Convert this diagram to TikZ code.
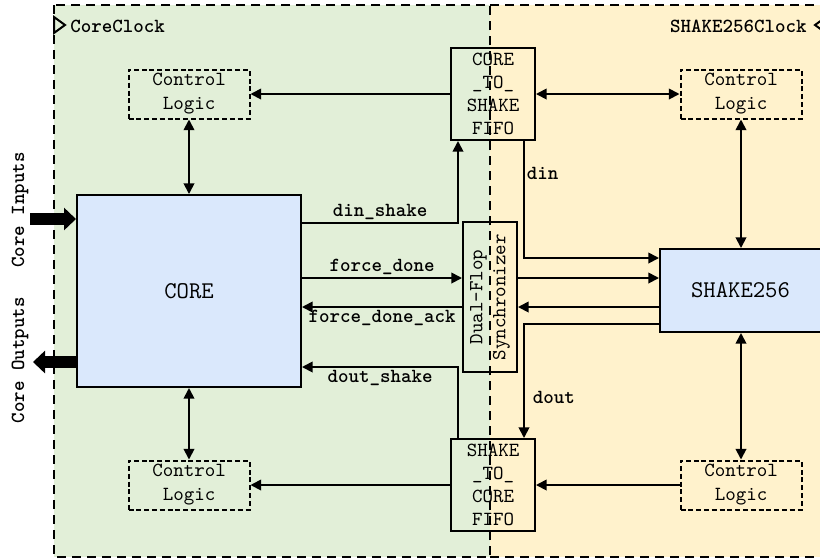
\documentclass[tikz,border=0pt]{standalone}
\usetikzlibrary{arrows.meta}
\definecolor{greenbg}{HTML}{E2EFD8}
\definecolor{yellowbg}{HTML}{FFF2CC}
\definecolor{bluebox}{HTML}{DAE8FC}
\begin{document}
\begin{tikzpicture}[x=0.5pt,y=-0.5pt,
  >={Triangle[length=5.3pt,width=5.3pt]},
  conn/.style={line width=0.9pt},
  region/.style={draw, line width=1pt, dash pattern=on 4.5pt off 3pt},
  ctrl/.style={draw, line width=1pt, dash pattern=on 2.5pt off 1.4pt, minimum width=60.5pt, minimum height=24.5pt, inner sep=0pt, align=center, font=\fontsize{10}{12}\ttfamily\selectfont},
  fifo/.style={draw, line width=1pt, minimum width=42pt, minimum height=46pt, inner sep=0pt, align=center, font=\fontsize{10}{11.5}\ttfamily\selectfont},
  block/.style={draw, fill=bluebox, line width=1pt, inner sep=0pt, font=\fontsize{12}{14}\ttfamily\selectfont},
  lbl/.style={font=\fontsize{10}{12}\ttfamily\bfseries, inner sep=1pt},
  bigarrow/.style={line width=5.8pt, -{Triangle[length=6pt,width=11pt]}}
]
\useasboundingbox (0,0) rectangle (820,559);
\clip (0,0) rectangle (820,559);
% regions
\fill[greenbg] (54,5) rectangle (490,557);
\fill[yellowbg] (490,5) rectangle (830,557);
% helper coordinates
\coordinate (xa) at (458,0);
\coordinate (xb) at (524,0);
\coordinate (y223) at (0,223);
\coordinate (y258) at (0,258);
\coordinate (y278) at (0,278);
\coordinate (y307) at (0,307);
\coordinate (y324) at (0,324);
\coordinate (y367) at (0,367);
% blocks
\node[block, minimum width=112pt, minimum height=96pt] (core) at (189,291) {CORE};
\node[block, minimum width=80.5pt, minimum height=41.5pt] (shake) at (740.5,290.5) {SHAKE256};
\node[ctrl] (cl1) at (189,94) {Control\\Logic};
\node[ctrl] (cl2) at (741,94) {Control\\Logic};
\node[ctrl] (cl3) at (189,485) {Control\\Logic};
\node[ctrl] (cl4) at (741,485) {Control\\Logic};
\node[fifo] (fifo1) at (493,94) {CORE\\\_TO\_\\SHAKE\\FIFO};
\node[fifo] (fifo2) at (493,485) {SHAKE\\\_TO\_\\CORE\\FIFO};
\node[draw, line width=1pt, minimum width=27pt, minimum height=75pt, inner sep=0pt] (sync) at (490,297) {};
\node[rotate=90, align=center, inner sep=0pt, font=\fontsize{10}{11.5}\ttfamily\selectfont] (synctext) at (sync.center) {Dual-Flop\\Synchronizer};
% control connections
\draw[conn,->] (fifo1.west) -- (cl1.east);
\draw[conn,<->] (fifo1.east) -- (cl2.west);
\draw[conn,->] (fifo2.west) -- (cl3.east);
\draw[conn,->] (cl4.west) -- (fifo2.east);
\draw[conn,<->] (cl1.south) -- (core.north);
\draw[conn,<->] (core.south) -- (cl3.north);
\draw[conn,<->] (cl2.south) -- (cl2.south |- shake.north);
\draw[conn,<->] (cl4.north |- shake.south) -- (cl4.north);
% data connections
\draw[conn,->] (core.east |- y223) -| (xa |- fifo1.south) node[lbl, pos=0.25, above] {din\_shake};
\draw[conn,->] (xb |- fifo1.south) |- (shake.west |- y258) node[lbl, pos=0.14, right] {din};
\draw[conn,->] (core.east |- y278) -- (sync.west |- y278) node[lbl, midway, above] {force\_done};
\draw[conn,->] (sync.east |- y278) -- (shake.west |- y278);
\draw[conn,->] (shake.west |- y307) -- (sync.east |- y307);
\draw[conn,->] (sync.west |- y307) -- (core.east |- y307) node[lbl, midway, below] {force\_done\_ack};
\draw[conn,->] (shake.west |- y324) -| (xb |- fifo2.north) node[lbl, pos=0.82, right=3pt] {dout};
\draw[conn,->] (xa |- fifo2.north) |- (core.east |- y367) node[lbl, pos=0.75, below] {dout\_shake};
% core I/O
\coordinate (inS) at (30,219);
\coordinate (outE) at (33,362);
\draw[bigarrow] (inS) -- (core.west |- inS);
\draw[bigarrow] (core.west |- outE) -- (outE);
\node[lbl, rotate=90] (cin) at (20,210) {Core Inputs};
\node[lbl, rotate=90] (cout) at (20,360) {Core Outputs};
% region borders and clocks
\draw[region] (54,5) rectangle (490,557);
\draw[region] (490,5) -- (826,5) -- (826,557) -- (490,557);
\draw[line width=1pt] (54,17) -- (65,25) -- (54,33) -- cycle;
\draw[line width=1pt] (826,17) -- (815,25) -- (826,33) -- cycle;
\node[lbl, anchor=base west, inner sep=0pt] (cclk) at (70,32) {CoreClock};
\node[lbl, anchor=base east, inner sep=0pt] (sclk) at (807,32) {SHAKE256Clock};
\end{tikzpicture}
\end{document}
